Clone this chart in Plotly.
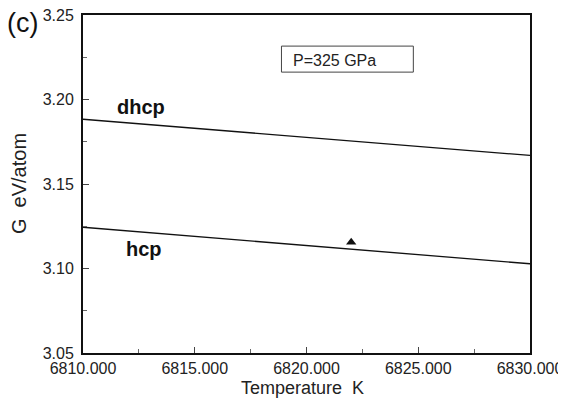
import plotly.graph_objects as go

temperature = [6810.0, 6830.0]
g_dhcp = [3.1883, 3.1669]
g_hcp = [3.1244, 3.1028]
point_t = [6822.0]
point_g = [3.1155]
x_ticks = [6810, 6815, 6820, 6825, 6830]
y_ticks = [3.05, 3.10, 3.15, 3.20, 3.25]

font = "Liberation Sans, Arial, sans-serif"

fig = go.Figure()
fig.add_trace(go.Scatter(x=temperature, y=g_dhcp, mode="lines",
                         line=dict(color="#111", width=1.3), showlegend=False))
fig.add_trace(go.Scatter(x=temperature, y=g_hcp, mode="lines",
                         line=dict(color="#111", width=1.3), showlegend=False))
fig.add_trace(go.Scatter(x=point_t, y=point_g, mode="markers",
                         marker=dict(symbol="triangle-up", size=9, color="#111"),
                         showlegend=False))

# the page body adds an 8px offset; compensate in size and margins
fig.update_layout(
    width=558, height=390,
    margin=dict(l=75, r=36, t=7, b=45),
    paper_bgcolor="white", plot_bgcolor="white",
    font=dict(family=font, color="#222"),
    xaxis=dict(range=[6810, 6830], tickvals=x_ticks, tickformat=".3f",
               ticks="inside", ticklen=6, tickwidth=1, tickcolor="#444",
               minor=dict(dtick=2.5, ticks="inside", ticklen=4, tickcolor="#666"),
               showline=True, linecolor="#111", linewidth=2, mirror=True,
               showgrid=False, zeroline=False, automargin=False,
               ticklabelstandoff=0, ticklabeloverflow="allow",
               tickfont=dict(size=16, family=font)),
    yaxis=dict(range=[3.05, 3.25], tickvals=y_ticks, tickformat=".2f",
               ticks="inside", ticklen=6, tickwidth=1, tickcolor="#444",
               minor=dict(dtick=0.025, ticks="inside", ticklen=4, tickcolor="#666"),
               showline=True, linecolor="#111", linewidth=2, mirror=True,
               showgrid=False, zeroline=False, automargin=False,
               ticklabelstandoff=4, ticklabeloverflow="allow",
               tickfont=dict(size=16, family=font)),
)

fig.add_shape(type="rect", xref="paper", yref="paper",
              x0=0.444, x1=0.739, y0=0.831, y1=0.908,
              line=dict(color="#444", width=1))
fig.add_annotation(text="P=325 GPa", xref="paper", yref="paper", x=0.5625, y=0.865,
                   xanchor="center", yanchor="middle",
                   showarrow=False, font=dict(size=16, family=font, color="#222"))
fig.add_annotation(text="<b>dhcp</b>", x=6812.6, y=3.1954, showarrow=False,
                   font=dict(size=20, family=font, color="#111"))
fig.add_annotation(text="<b>hcp</b>", x=6812.75, y=3.1117, showarrow=False,
                   font=dict(size=20, family=font, color="#111"))
fig.add_annotation(text="(c)", xref="paper", yref="paper", x=-0.136, y=0.975,
                   xanchor="center", yanchor="middle", showarrow=False,
                   font=dict(size=27, family=font, color="#111"))
fig.add_annotation(text="Temperature  K", xref="paper", yref="paper", x=0.491, y=-0.104,
                   xanchor="center", yanchor="middle", showarrow=False,
                   font=dict(size=18, family=font, color="#222"))
fig.add_annotation(text="G  eV/atom", xref="paper", yref="paper", x=-0.143, y=0.5,
                   xanchor="center", yanchor="middle", textangle=-90, showarrow=False,
                   font=dict(size=20, family=font, color="#222"))

fig.write_html("out.html")
